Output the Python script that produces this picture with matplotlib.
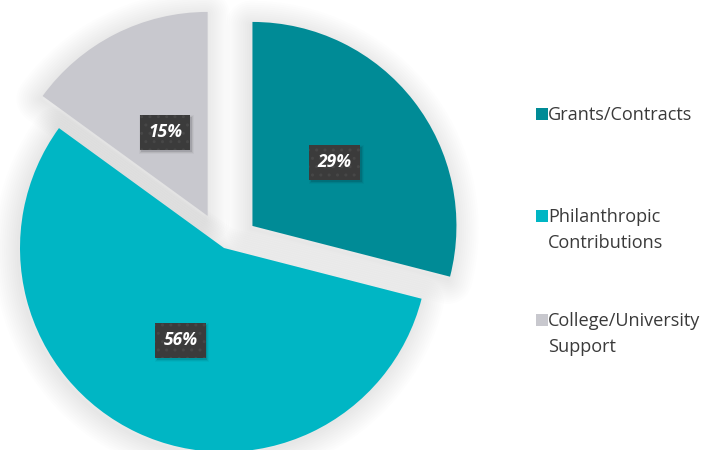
import matplotlib
matplotlib.use("Agg")
import matplotlib.pyplot as plt
import numpy as np
from matplotlib.patches import Wedge

categories = ["Grants/Contracts", "Philanthropic\nContributions", "College/University\nSupport"]
values = [29, 56, 15]
colors = ["#008B96", "#00B6C4", "#C8C8CE"]
explode = [36, 0, 36]

plt.rcParams['font.family'] = ['Open Sans', 'DejaVu Sans']

fig = plt.figure(figsize=(7.09, 4.5), dpi=100)
fig.patch.set_facecolor("white")
ax = fig.add_axes([0, 0, 1, 1])

wedges, texts, autotexts = ax.pie(
    values, colors=colors, explode=explode, startangle=90, counterclock=False,
    center=(224, 202), radius=204, autopct=lambda p: f"{p:.0f}%", pctdistance=0.5,
    frame=False, textprops=dict(color="white", fontsize=12.5, fontweight="bold",
                                fontstyle="italic"))
ax.set_aspect("equal")
ax.set_xlim(0, 709)
ax.set_ylim(0, 450)
ax.axis("off")

# per-slice label radial distance (fraction of radius)
label_dist = [0.51, 0.5, 0.46]
for w, t, d in zip(wedges, autotexts, label_dist):
    thm = np.deg2rad((w.theta1 + w.theta2) / 2)
    cx, cy = w.center
    t.set_position((cx + d * w.r * np.cos(thm), cy + d * w.r * np.sin(thm)))

# soft halo shadow around wedges (slightly offset down/left)
for w in wedges:
    cx, cy = w.center
    for k in range(12):
        lw = 2 + k * 3
        sh = Wedge((cx - 2, cy - 3), w.r, w.theta1, w.theta2, facecolor="none",
                   edgecolor="black", linewidth=lw, alpha=0.008, zorder=0,
                   joinstyle="round")
        ax.add_patch(sh)
    w.set_zorder(1)

for t in autotexts:
    t.set_zorder(5)
    t.set_bbox(dict(boxstyle="square,pad=0.48", facecolor="#3b3b3b",
                    edgecolor="#474747", linewidth=0, hatch=".."))

fig.canvas.draw()
# soft shadow behind label boxes
for t in autotexts:
    bb = t.get_bbox_patch().get_window_extent().transformed(ax.transData.inverted())
    for k, a in enumerate([0.10, 0.06, 0.03]):
        off = 1 + k
        ax.add_patch(plt.Rectangle((bb.x0 + 1.5 - k, bb.y0 - 2 - k), bb.width + 2 * k,
                                   bb.height + 2 * k, facecolor="black", alpha=a,
                                   linewidth=0, zorder=4))

# legend
leg_y = [114, 216, 320]
line_gap = 26
for cat, col, y in zip(categories, colors, leg_y):
    ax.scatter([541.5], [450 - y], marker="s", s=75, color=col, linewidths=0, zorder=5)
    for j, line in enumerate(cat.split("\n")):
        ax.text(548, 450 - (y + 6.5 + j * line_gap), line, fontsize=13.1, color="#3a3a3a",
                va="baseline", ha="left", zorder=5)

fig.savefig("out.png", dpi=100, facecolor="white")
